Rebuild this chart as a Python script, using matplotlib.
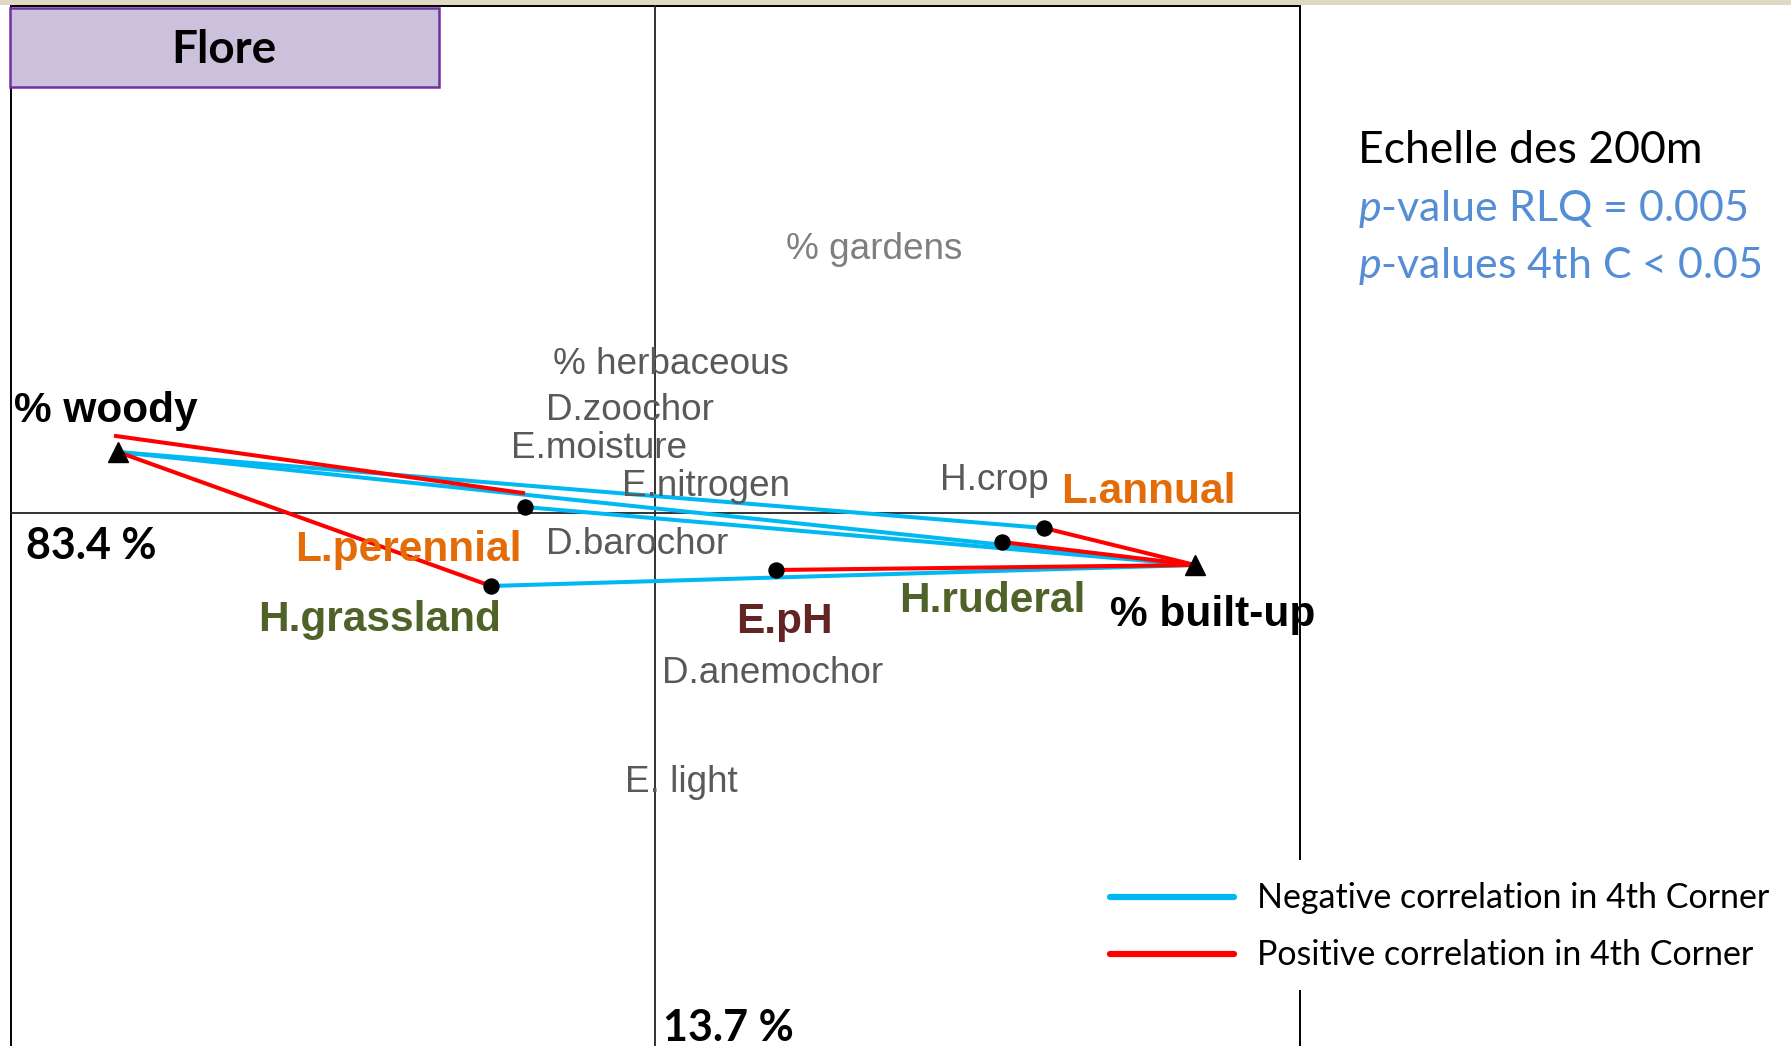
import matplotlib
matplotlib.use("Agg")
import matplotlib.pyplot as plt
from matplotlib.patches import Rectangle

plt.rcParams['font.family'] = ['Liberation Sans', 'DejaVu Sans']
plt.rcParams['mathtext.fontset'] = 'custom'
plt.rcParams['mathtext.it'] = 'Lato:italic'
plt.rcParams['mathtext.rm'] = 'Lato'

# environment variables (triangles)
env_names = ['% woody', '% built-up']
env_x = [-5.37, 5.40]
env_y = [0.61, -0.52]

# traits linked in the 4th corner (dots)
trait_names = ['L.perennial', 'H.grassland', 'L.annual', 'H.ruderal', 'E.pH']
trait_x = [-1.30, -1.64, 3.89, 3.47, 1.21]
trait_y = [0.06, -0.73, -0.15, -0.29, -0.57]

# links: (x0, y0, x1, y1), sign
neg_links = [(-5.37, 0.61, 3.89, -0.15),
             (-5.37, 0.61, 5.40, -0.52),
             (-1.30, 0.06, 5.40, -0.52),
             (-1.64, -0.73, 5.40, -0.52)]
pos_links = [(-5.39, 0.77, -1.32, 0.20),
             (-5.37, 0.61, -1.64, -0.73),
             (3.89, -0.15, 5.40, -0.52),
             (3.47, -0.29, 5.40, -0.52),
             (1.21, -0.57, 5.40, -0.52)]

# bold coloured labels (left, baseline)
bold_labels = ['% woody', '% built-up', 'L.perennial', 'H.grassland', 'L.annual', 'H.ruderal', 'E.pH']
bold_x = [-6.41, 4.55, -3.595, -3.97, 4.06, 2.44, 0.815]
bold_y = [0.91, -1.13, -0.48, -1.18, 0.10, -0.99, -1.20]
bold_col = ['black', 'black', '#E36C09', '#4F6228', '#E36C09', '#4F6228', '#632523']

# grey labels
grey_labels = ['% gardens', '% herbaceous', 'D.zoochor', 'E.moisture', 'E.nitrogen',
               'D.barochor', 'D.anemochor', 'E. light', 'H.crop']
grey_x = [1.31, -1.02, -1.09, -1.444, -0.33, -1.09, 0.07, -0.30, 2.85]
grey_y = [2.54, 1.39, 0.93, 0.55, 0.17, -0.41, -1.70, -2.79, 0.23]
grey_col = ['#7F7F7F'] + ['#595959'] * 8

eig_labels = ['83.4 %', '13.7 %']
eig_x = [-6.29, 0.08]
eig_y = [-0.46, -5.28]

info_lines = ['Echelle des 200m', r'$\it{p}$-value RLQ = 0.005', r'$\it{p}$-values 4th C < 0.05']
info_col = ['black', '#558ED5', '#558ED5']
info_size = [32, 31, 31]

legend_labels = ['Negative correlation in 4th Corner', 'Positive correlation in 4th Corner']
BLUE = '#00B9F2'
RED = '#FF0000'

fig = plt.figure(figsize=(17.91, 10.46), dpi=100)
ax = fig.add_axes([0, 0, 1, 1])
ax.set_xlim(-6.55, 11.36)
ax.set_ylim(-5.33, 5.13)
ax.axis('off')

# top band
ax.add_patch(Rectangle((-6.55, 5.08), 18, 0.06, facecolor='#DDD9C3', edgecolor='none', zorder=1))
# frame
ax.add_patch(Rectangle((-6.44, -7), 12.89, 12.07, fill=False, edgecolor='black', lw=1.4, zorder=2))
ax.plot([-6.44, 6.45], [0, 0], color='#222222', lw=1.3, zorder=2)
ax.plot([0, 0], [-7, 5.07], color='#222222', lw=1.3, zorder=2)

for x0, y0, x1, y1 in neg_links:
    ax.plot([x0, x1], [y0, y1], color=BLUE, lw=2.9, zorder=3)
for x0, y0, x1, y1 in pos_links:
    ax.plot([x0, x1], [y0, y1], color=RED, lw=2.9, zorder=4)

ax.plot(env_x, env_y, '^', color='black', ms=14, zorder=6, linestyle='none')
ax.plot(trait_x, trait_y, 'o', color='black', ms=10.8, zorder=6, linestyle='none')

for t, x, y, c in zip(grey_labels, grey_x, grey_y, grey_col):
    ax.text(x, y, t, color=c, fontsize=26.6, ha='left', va='baseline', zorder=5)
for t, x, y, c in zip(bold_labels, bold_x, bold_y, bold_col):
    ax.text(x, y, t, color=c, fontsize=30.5, fontweight='bold', ha='left', va='baseline', zorder=5)
for t, x, y in zip(eig_labels, eig_x, eig_y):
    ax.text(x, y, t, color='black', fontsize=31, fontweight='bold', family='Lato',
            ha='left', va='baseline', zorder=5)

# title box
ax.add_patch(Rectangle((-6.45, 4.26), 4.29, 0.79, facecolor='#CCC1DA', edgecolor='#7030A0',
                       lw=1.8, zorder=7))
ax.text(-4.31, 4.50, 'Flore', fontsize=33, fontweight='bold', family='Lato',
        ha='center', va='baseline', zorder=8)

# info text
for i, (t, c, s) in enumerate(zip(info_lines, info_col, info_size)):
    ax.text(7.03, 3.50 - 0.575 * i, t, color=c, fontsize=s, family='Lato',
            ha='left', va='baseline', zorder=5)

# legend
ax.add_patch(Rectangle((4.45, -4.77), 7.0, 1.30, facecolor='white', edgecolor='none', zorder=8))
for i, (lab, col) in enumerate(zip(legend_labels, [BLUE, RED])):
    yy = -3.84 - 0.57 * i
    ax.plot([4.55, 5.79], [yy, yy], color=col, lw=4.5, solid_capstyle='round', zorder=9)
    ax.text(6.02, yy - 0.11, lab, fontsize=24.5, family='Lato', ha='left', va='baseline', zorder=9)

fig.savefig('out.png', dpi=100)
